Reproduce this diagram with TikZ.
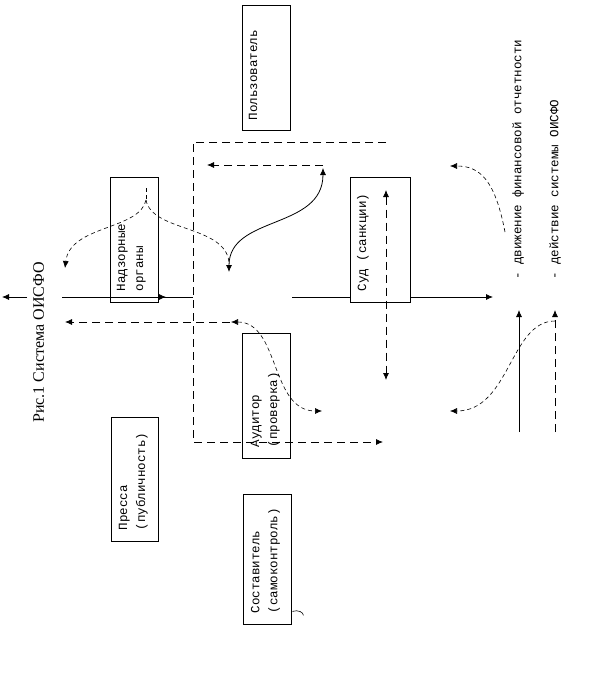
\documentclass[tikz,border=0pt]{standalone}
\usepackage{fontspec}
\setmainfont{Liberation Serif}
\newfontfamily\monofont{Liberation Mono}
\usetikzlibrary{arrows.meta}
\begin{document}
\begin{tikzpicture}[x=1pt,y=-1pt,line width=0.8pt,
  box/.style={draw,line width=0.8pt,inner sep=0pt},
  lbl/.style={rotate=90,anchor=north west,inner sep=0pt,align=left,
    font=\monofont\fontsize{12.5}{18}\selectfont},
  tip/.style={-{Latex[length=7pt,width=6pt]}},
  dtip/.style={{Latex[length=7pt,width=6pt]}-{Latex[length=7pt,width=6pt]}},
  dsh/.style={dash pattern=on 8pt off 5pt},
  fdsh/.style={dash pattern=on 4pt off 3pt,line width=0.6pt}]
\useasboundingbox (0,0) rectangle (592,673);

% boxes
\node[box,minimum width=48pt,minimum height=125pt] (polz) at (266,67.5) {};
\node[box,minimum width=48pt,minimum height=125pt] (nadz) at (134,239.5) {};
\node[box,minimum width=60pt,minimum height=125pt] (sud) at (380,239.5) {};
\node[box,minimum width=48pt,minimum height=125pt] (aud) at (266,395.5) {};
\node[box,minimum width=47pt,minimum height=124pt] (press) at (134.5,479) {};
\node[box,minimum width=48pt,minimum height=130pt] (sost) at (267,559) {};

% labels
\node[lbl] (polzT) at ([xshift=7pt,yshift=10pt]polz.south west) {Пользователь};
\node[lbl] (nadzT) at ([xshift=7pt,yshift=11pt]nadz.south west) {Надзорные\\органы};
\node[lbl] (sudT) at ([xshift=7pt,yshift=11pt]sud.south west) {Суд (санкции)};
\node[lbl] (audT) at ([xshift=9pt,yshift=11pt]aud.south west) {Аудитор\\(проверка)};
\node[lbl] (pressT) at ([xshift=8pt,yshift=11pt]press.south west) {Пресса\\(публичность)};
\node[lbl] (sostT) at ([xshift=8pt,yshift=11pt]sost.south west) {Составитель\\(самоконтроль)};

\node[rotate=90,anchor=north west,inner sep=0pt,font=\fontsize{16}{18}\selectfont] (cap) at (33,423) {Рис.1 Система ОИСФО};
\node[lbl] (leg1) at (512,280) {- движение финансовой отчетности};
\node[lbl] (leg2) at (549,280) {- действие системы ОИСФО};

% coordinates
\coordinate (L1) at (27,297);
\coordinate (L0) at (2,297);
\coordinate (M0) at (62,297);
\coordinate (Mt) at (166,297);
\coordinate (M1) at (193,297);
\coordinate (S0) at (292,297);
\coordinate (Se) at (493,297);
\coordinate (R1) at (386,142);
\coordinate (R0) at (193,142);
\coordinate (R2) at (193,442);
\coordinate (R3) at (383,442);
\coordinate (T0) at (323,165);
\coordinate (T1) at (207,165);
\coordinate (C1) at (229,272);
\coordinate (C2) at (323,168);
\coordinate (B0) at (146,188);
\coordinate (B1) at (146,200);
\coordinate (BL) at (65,268);
\coordinate (BR) at (229,262);
\coordinate (H0) at (230,322);
\coordinate (H1) at (65,322);
\coordinate (A1) at (231,322);
\coordinate (A2) at (322,411);
\coordinate (V0) at (386,190);
\coordinate (V1) at (386,380);
\coordinate (P0) at (505,232);
\coordinate (P1) at (450,166);
\coordinate (U0) at (519,432);
\coordinate (U1) at (519,310);
\coordinate (W0) at (555,432);
\coordinate (W1) at (555,310);
\coordinate (Q0) at (555,321);
\coordinate (Q1) at (450,411);

% solid lines
\draw[tip] (L1) -- (L0);
\draw (M0) -- (M1);
\draw[tip] (M0) -- (Mt);
\draw (S0) -- (S0 -| sud.west);
\draw[tip] (S0 -| sud.east) -- (Se);
\draw[dtip] (C1) .. controls (229,215) and (323,230) .. (C2);
\draw[tip] (U0) -- (U1);

% dashed
\draw[dsh,tip] (R1) -- (R0) -- (R2) -- (R3);
\draw[dsh,tip] (T0) -- (T1);
\draw[dsh,tip] (H0) -- (H1);
\draw[dsh,dtip] (V0) -- (V1);
\draw[dsh,tip] (W0) -- (W1);

% fine dashed curves
\draw[fdsh] (B0) -- (B1);
\draw[fdsh,tip] (B1) .. controls (140,230) and (70,225) .. (BL);
\draw[fdsh] (B1) .. controls (152,232) and (225,225) .. (BR);
\draw[fdsh,dtip] (A1) .. controls (280,322) and (270,411) .. (A2);
\draw[fdsh,tip] (P0) .. controls (495,180) and (480,166) .. (P1);
\draw[fdsh,tip] (Q0) .. controls (510,321) and (510,411) .. (Q1);

% small mark
\draw[line width=0.6pt] (sost.south east) ++(1,-13) .. controls +(6,-2) and +(0,-3) .. +(11,4);
\end{tikzpicture}
\end{document}
